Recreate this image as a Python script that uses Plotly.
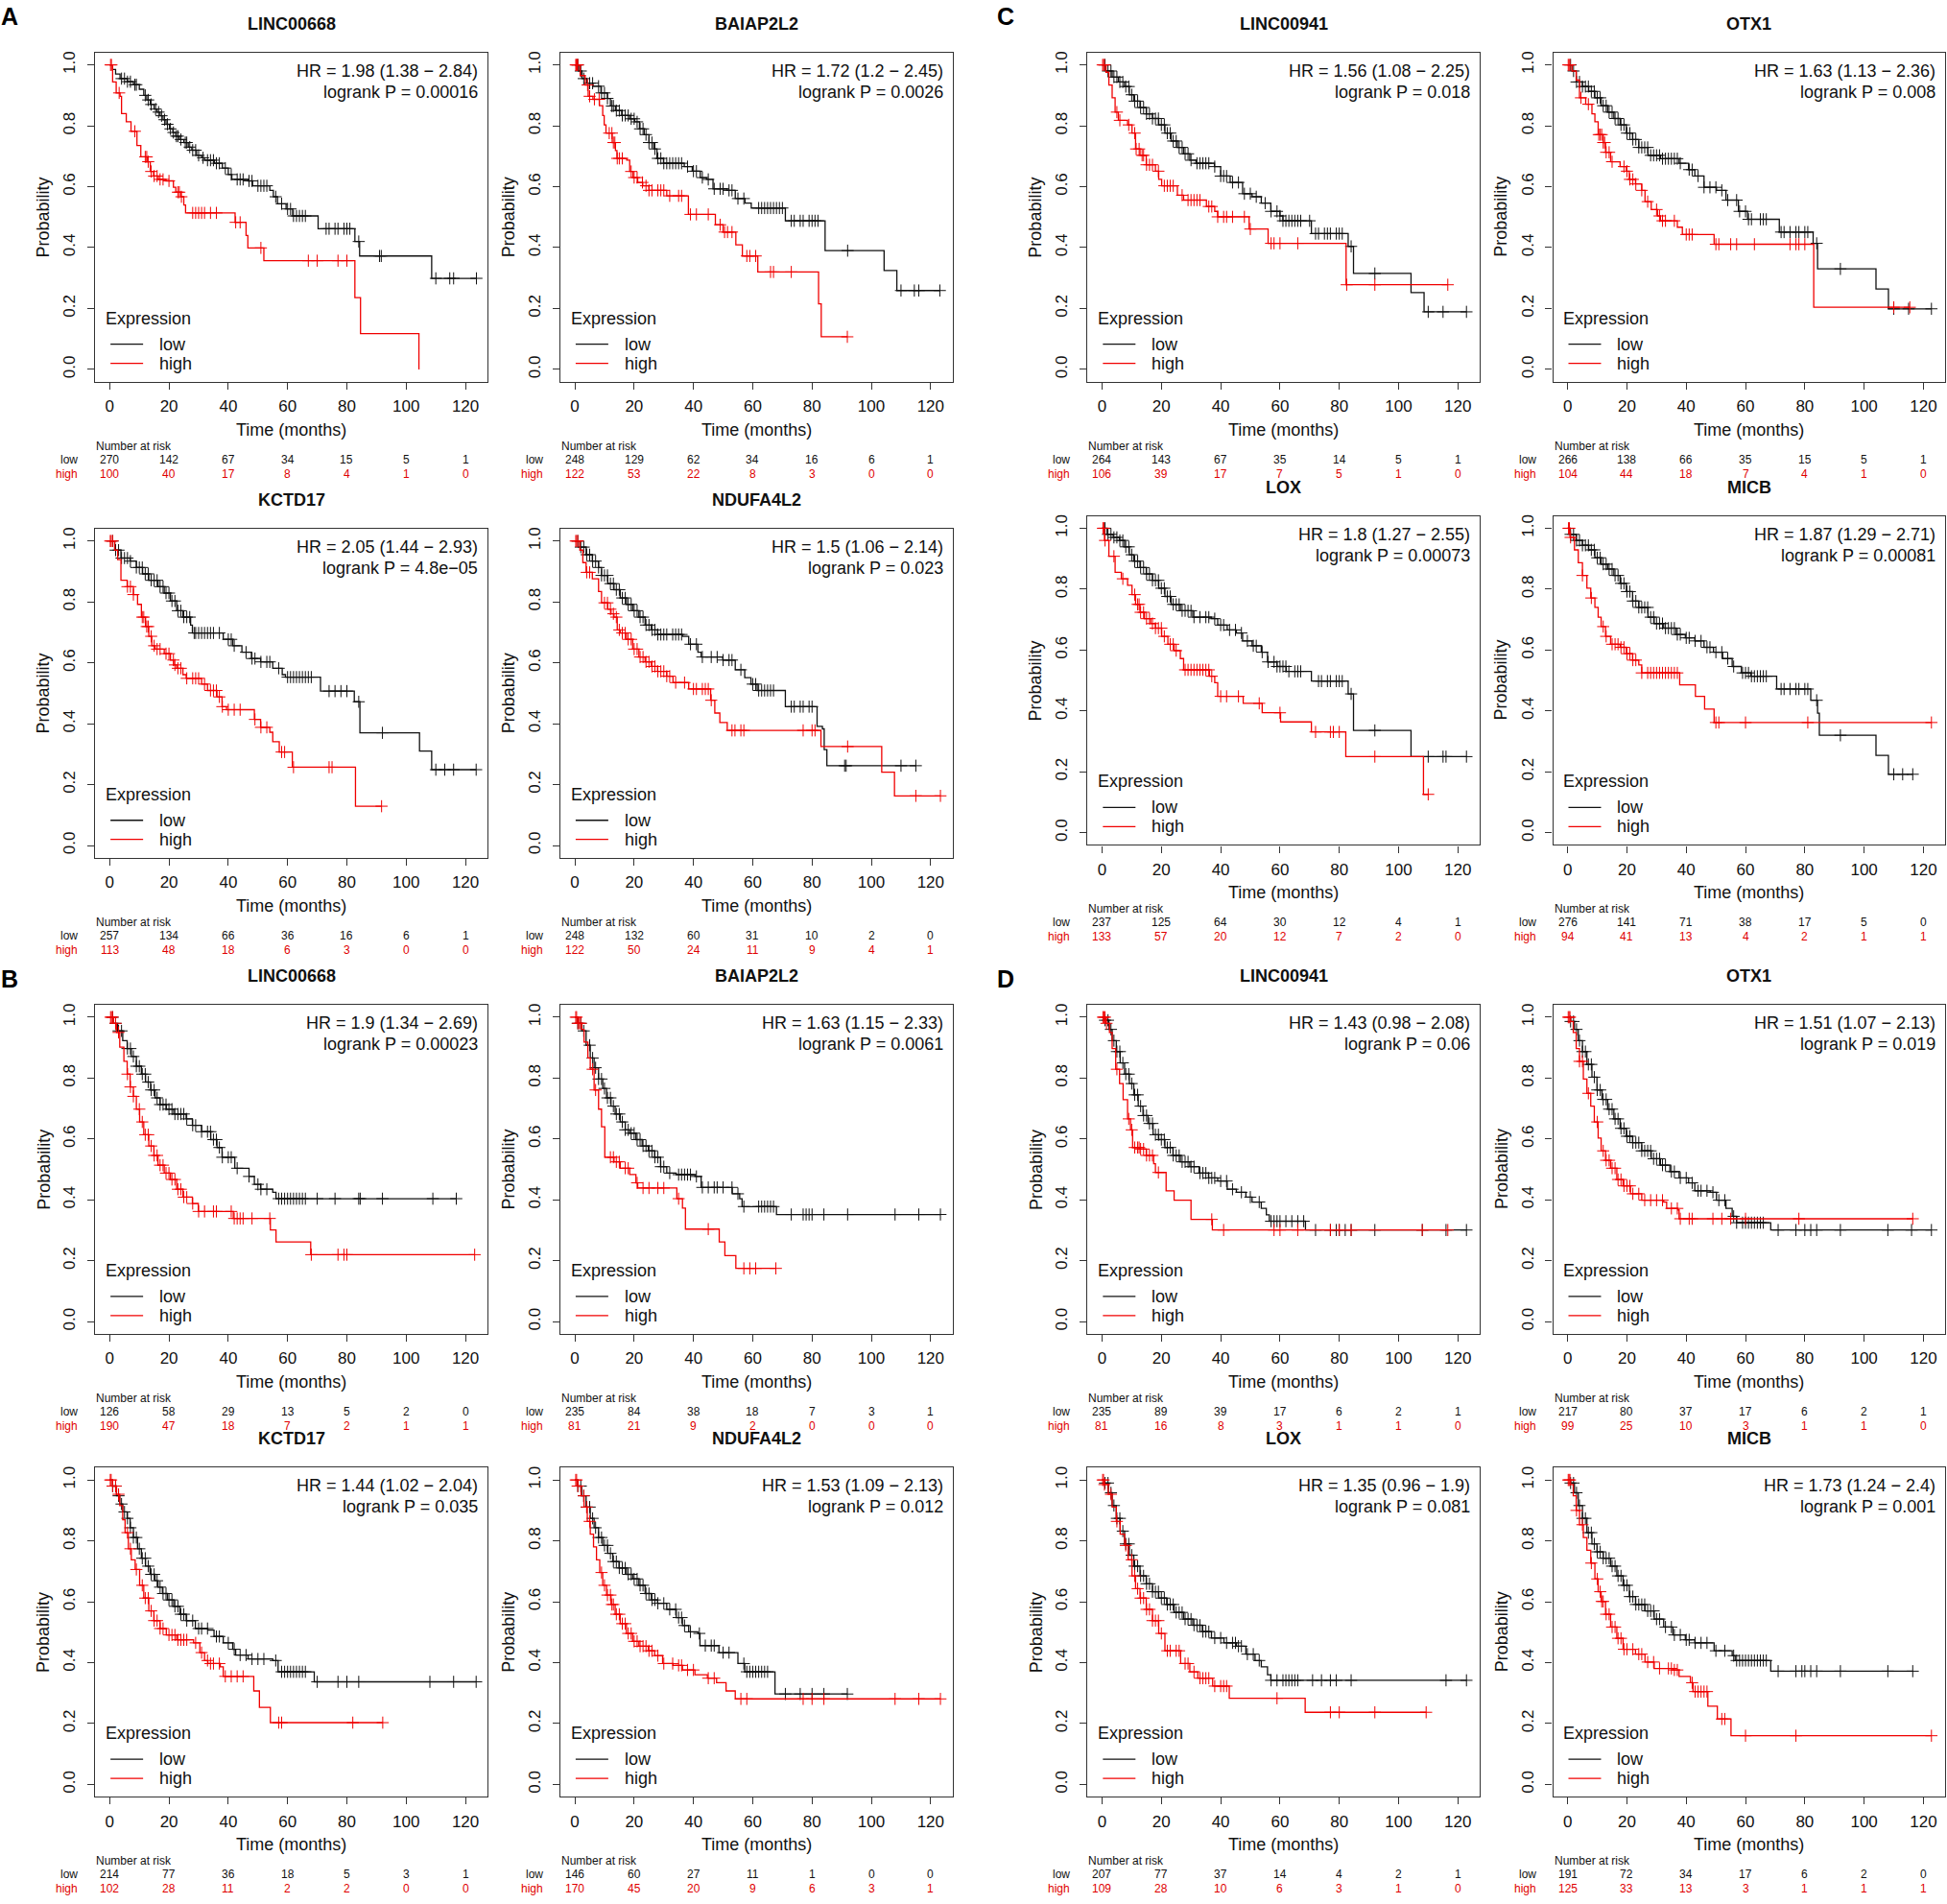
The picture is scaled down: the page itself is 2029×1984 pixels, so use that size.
import plotly.graph_objects as go

# ------------------------------------------------------------------
# DATA
# step points are (time in months, survival probability after the step)
# ------------------------------------------------------------------
TIME_TICKS = [0, 20, 40, 60, 80, 100, 120]
PROB_TICKS = [0.0, 0.2, 0.4, 0.6, 0.8, 1.0]
PROB_TICK_TEXT = ["0.0", "0.2", "0.4", "0.6", "0.8", "1.0"]

# ---------------- A : LINC00668 ----------------
A1_low = [(0, 1.0), (1, 0.985), (2, 0.97), (3.5, 0.955), (6, 0.945), (8, 0.935), (10, 0.92), (11.5, 0.90),
          (12.5, 0.885), (13.7, 0.87), (15, 0.855), (16, 0.845), (17, 0.833), (18, 0.82), (19, 0.805),
          (20.2, 0.79), (21.3, 0.778), (22.3, 0.766), (23.5, 0.755), (25, 0.745), (26.5, 0.73), (27.7, 0.72),
          (29.3, 0.703), (31, 0.695), (32, 0.687), (35.3, 0.677), (38, 0.661), (40, 0.64), (41.2, 0.624),
          (46.6, 0.619), (48.2, 0.603), (54, 0.588), (55.2, 0.567), (56.6, 0.544), (59.5, 0.527), (61.7, 0.504),
          (70.3, 0.462), (82.7, 0.42), (84.3, 0.3725), (108.6, 0.299)]
A1_low_end = 123.7
A1_low_cens = [4, 5, 6, 7, 8.5, 9, 12, 13, 14, 15.5, 16.5, 17.5, 18.5, 19.5, 20.5, 21.5, 22.5, 23, 24, 25.5, 26, 27,
               28, 29, 30, 31.5, 33, 34, 35, 36, 37, 39, 41, 43, 44, 45, 47, 48, 50, 51, 52, 53, 56, 58, 60, 61, 62,
               63, 64, 65, 66, 73, 74, 76, 77, 79, 80, 81, 84, 91, 91.6, 110, 114.7, 116, 123.7]
A1_high = [(0, 1.0), (1, 0.944), (2.2, 0.908), (3.5, 0.897), (4, 0.84), (5.6, 0.813), (7.2, 0.782), (9.2, 0.735),
           (10.5, 0.698), (12.6, 0.682), (13.7, 0.65), (14.8, 0.635), (16.4, 0.624), (19, 0.619), (21.5, 0.598),
           (22.3, 0.582), (24, 0.567), (25, 0.54), (25.6, 0.514), (42.3, 0.483), (46, 0.44), (46.6, 0.399),
           (52, 0.357), (82.7, 0.236), (84.6, 0.1175), (104.3, 0.0)]
A1_high_end = 104.3
A1_high_cens = [0.3, 0.6, 3.2, 8.5, 12, 12.5, 13, 14, 15, 16, 17, 18, 20, 23, 23.5, 24.2, 28, 29, 30, 31, 32, 34, 36,
                42.5, 44, 51, 67, 70, 77, 80]
A1_risk_low = [270, 142, 67, 34, 15, 5, 1]
A1_risk_high = [100, 40, 17, 8, 4, 1, 0]

# ---------------- A : BAIAP2L2 ----------------
A2_low = [(0, 1.0), (1.3, 0.98), (2.4, 0.955), (4, 0.94), (6.1, 0.93), (8.8, 0.908), (11, 0.89), (12, 0.865),
          (13.7, 0.85), (15.8, 0.834), (18.5, 0.823), (20.2, 0.813), (21.8, 0.79), (23.4, 0.771), (25, 0.745),
          (26.6, 0.724), (27.7, 0.693), (29.9, 0.677), (36.9, 0.666), (39.6, 0.651), (42.3, 0.63), (44.4, 0.624),
          (46.6, 0.593), (51.4, 0.588), (54.1, 0.561), (57.4, 0.546), (59.5, 0.53), (71, 0.488), (84.4, 0.39),
          (104.3, 0.325), (108.6, 0.259)]
A2_low_end = 123.1
A2_low_cens = [1, 2, 3, 5, 6, 8, 9, 10, 11, 12.5, 13, 14, 15, 16, 17, 18, 19, 20, 21, 22, 23, 24, 25, 26, 27, 28, 29,
               30, 31, 32, 33, 34, 35, 36, 38, 40, 41, 43, 45, 47, 49, 50, 52, 53, 55, 57, 62, 63, 64, 65, 66, 67, 68,
               69, 70, 73, 74, 76, 77, 79, 80, 81, 82, 92, 110, 114.5, 116, 123.1]
A2_high = [(0, 1.0), (1.8, 0.965), (3.5, 0.934), (4.5, 0.897), (6.1, 0.887), (8.3, 0.866), (9.4, 0.834),
           (9.9, 0.803), (10.5, 0.776), (12.6, 0.745), (13.7, 0.719), (14.2, 0.693), (17.5, 0.687), (18.5, 0.65),
           (19.6, 0.63), (21.2, 0.614), (22.9, 0.603), (25, 0.588), (31, 0.57), (38.3, 0.509), (47.4, 0.475),
           (50, 0.451), (54.3, 0.409), (56.5, 0.3725), (61.7, 0.32), (82.2, 0.215), (83.1, 0.107)]
A2_high_end = 91.9
A2_high_cens = [0.3, 0.5, 0.8, 1, 4.3, 5, 6.6, 8.2, 11.6, 12.5, 13, 13.5, 14.3, 15, 16, 19, 20, 21, 22.8, 24, 25, 26,
                28, 29, 30, 32, 35, 36, 39, 41, 45, 49, 50.5, 51.5, 53, 58, 59, 61, 66, 67, 73, 91.9]
A2_risk_low = [248, 129, 62, 34, 16, 6, 1]
A2_risk_high = [122, 53, 22, 8, 3, 0, 0]

# ---------------- A : KCTD17 ----------------
A3_low = [(0, 1.0), (1.7, 0.97), (3.8, 0.944), (6.9, 0.934), (9, 0.913), (11.1, 0.892), (13.2, 0.871), (16.3, 0.85),
          (18.4, 0.829), (20.5, 0.803), (22.6, 0.771), (24.7, 0.75), (27.3, 0.724), (27.9, 0.698), (38.3, 0.677),
          (41.5, 0.656), (44.6, 0.635), (47.8, 0.614), (50.9, 0.603), (55, 0.582), (58.2, 0.561), (59.3, 0.553),
          (71.1, 0.507), (82.5, 0.472), (84.4, 0.37), (104.5, 0.31), (108.6, 0.249)]
A3_low_end = 123.6
A3_low_cens = [1, 2, 3, 4, 5, 6, 7, 9, 10, 11, 12, 13, 14, 15, 16, 17, 18, 19, 20, 21, 22, 23, 24, 25, 26, 27, 28.5,
               29, 30, 31, 32, 33, 34, 35, 37, 40, 41, 42, 46, 48, 49, 51, 53, 54, 57, 60, 61, 62, 63, 64, 65, 66, 67,
               68, 74, 76, 78, 80, 84, 92, 110, 113, 116, 123.6]
A3_high = [(0, 1.0), (1.7, 0.97), (2.7, 0.939), (3.8, 0.871), (5.9, 0.85), (8, 0.824), (9.4, 0.792), (10.7, 0.75),
           (12.1, 0.719), (13.2, 0.687), (14.2, 0.656), (15.3, 0.645), (18.4, 0.63), (20.5, 0.609), (21.6, 0.593),
           (22.6, 0.582), (24.7, 0.561), (25.8, 0.549), (31, 0.53), (33, 0.509), (36.2, 0.488), (37.9, 0.456),
           (39.4, 0.446), (48.8, 0.414), (50.9, 0.388), (54, 0.372), (55, 0.341), (57.2, 0.307), (61.6, 0.257),
           (82.9, 0.129)]
A3_high_end = 91.7
A3_high_cens = [0.2, 0.5, 1, 6, 7, 8, 11, 11.5, 12.5, 13, 14, 15, 16, 17, 19, 20, 21.5, 22, 23, 24, 26, 28, 29, 30,
                32, 34, 35, 36, 37, 38, 40, 42, 44, 49, 51, 53, 58, 59, 62, 74, 75, 91.7]
A3_risk_low = [257, 134, 66, 36, 16, 6, 1]
A3_risk_high = [113, 48, 18, 6, 3, 0, 0]

# ---------------- A : NDUFA4L2 ----------------
A4_low = [(0, 1.0), (1.7, 0.98), (3.8, 0.955), (5.9, 0.934), (8, 0.913), (9, 0.887), (11.1, 0.86), (13.2, 0.84),
          (15.3, 0.813), (17.4, 0.792), (19.5, 0.771), (21.6, 0.75), (23.7, 0.724), (25.8, 0.708), (27.9, 0.693),
          (36.3, 0.687), (38.4, 0.661), (41.5, 0.635), (42.6, 0.619), (49.9, 0.609), (54.1, 0.577), (57.3, 0.551),
          (59.4, 0.53), (61.5, 0.509), (71, 0.456), (81.7, 0.391), (83.5, 0.383), (84.1, 0.315), (85, 0.262)]
A4_low_end = 115
A4_low_cens = [1, 2, 3, 4, 5, 6, 7, 8, 9, 10, 11, 12, 13, 14, 15, 16, 17, 18, 19, 20, 21, 22, 23, 24, 25, 26, 27, 28,
               29, 30, 31, 33, 34, 35, 36, 39, 41, 43, 46, 48, 50, 52, 53, 56, 60, 61, 62, 63, 64, 65, 66, 67, 73, 74,
               76, 77, 79, 80, 91, 91.5, 110, 115]
A4_high = [(0, 1.0), (1.7, 0.97), (2.7, 0.929), (3.8, 0.897), (5.9, 0.876), (8, 0.834), (9, 0.797), (11.1, 0.776),
           (12.2, 0.761), (13.2, 0.75), (14.3, 0.708), (15.3, 0.698), (17.4, 0.677), (19.5, 0.645), (21.6, 0.619),
           (23.7, 0.603), (25.8, 0.588), (27.9, 0.572), (31, 0.556), (33.1, 0.535), (38.4, 0.514), (45.8, 0.477),
           (47.2, 0.435), (48.9, 0.404), (51.4, 0.378), (83, 0.325), (103.5, 0.241), (107.8, 0.163)]
A4_high_end = 123.3
A4_high_cens = [0.3, 0.6, 1, 4, 5, 10, 11, 12, 13, 14, 15, 16, 17, 18, 19, 20, 21, 22, 23, 24, 25, 26, 27, 28, 29, 30,
                31, 32, 34, 37, 40, 41, 43, 44, 45, 46, 53, 54, 56, 57, 77, 80, 81, 92, 115, 123.3]
A4_risk_low = [248, 132, 60, 31, 10, 2, 0]
A4_risk_high = [122, 50, 24, 11, 9, 4, 1]

# ---------------- C : LINC00941 ----------------
C1_low = [(0, 1.0), (1.3, 0.98), (3.4, 0.96), (5.5, 0.944), (7.6, 0.929), (9.2, 0.902), (10.7, 0.881), (12.8, 0.86),
          (14.9, 0.839), (17, 0.824), (19.1, 0.803), (21.2, 0.776), (23.3, 0.75), (25.4, 0.729), (27.5, 0.708),
          (29.6, 0.687), (31.7, 0.677), (37.9, 0.666), (40, 0.635), (43.2, 0.614), (47.4, 0.577), (50.6, 0.567),
          (53.7, 0.546), (56.9, 0.519), (60, 0.504), (61, 0.488), (70.6, 0.446), (83, 0.404), (84.8, 0.315),
          (104.2, 0.252), (108.6, 0.189)]
C1_low_end = 122.9
C1_low_cens = [1, 2, 3, 4, 5, 6, 7, 8, 9, 10, 11, 12, 13, 14, 15, 16, 17, 18, 19, 20, 21, 22, 23, 24, 25, 26, 27, 28,
               29, 30, 32, 33, 34, 35, 36, 38, 40, 41, 42, 44, 46, 48, 50, 52, 55, 57, 59, 60, 61, 62, 63, 64, 65, 66,
               67, 70, 72, 73, 75, 76, 77, 79, 80, 81, 84, 92, 110, 115, 122.9]
C1_high = [(0, 1.0), (1.3, 0.976), (2.3, 0.934), (3.4, 0.892), (4.4, 0.845), (5.5, 0.818), (8.6, 0.803),
           (10.1, 0.776), (11.3, 0.724), (12.8, 0.703), (14.9, 0.672), (18, 0.651), (19.1, 0.624), (20.1, 0.603),
           (25.4, 0.572), (27.5, 0.556), (35.2, 0.535), (38, 0.519), (39, 0.501), (49.6, 0.461), (56, 0.414),
           (82.3, 0.278)]
C1_high_end = 116.6
C1_high_cens = [0.2, 0.5, 0.8, 5, 6, 9, 11, 11.5, 12.5, 13.5, 14, 15, 16, 17, 19, 21, 22, 23, 24, 27, 29, 30, 31, 32,
                33, 36, 37, 39, 41, 42, 44, 48, 50, 57, 58, 60, 66, 82.5, 92, 116.6]
C1_risk_low = [264, 143, 67, 35, 14, 5, 1]
C1_risk_high = [106, 39, 17, 7, 5, 1, 0]

# ---------------- C : OTX1 ----------------
C2_low = [(0, 1.0), (1.5, 0.98), (2.9, 0.944), (5, 0.929), (7.1, 0.913), (9.2, 0.892), (11.3, 0.866), (13.5, 0.845),
          (15.6, 0.824), (17.7, 0.803), (19.8, 0.776), (21.9, 0.755), (24, 0.729), (27.1, 0.703), (31.3, 0.692),
          (37.6, 0.677), (40.8, 0.656), (42.9, 0.635), (46, 0.598), (50.2, 0.588), (53.4, 0.556), (57.6, 0.519),
          (60.7, 0.493), (71.4, 0.451), (82.8, 0.414), (84.3, 0.33), (104, 0.264), (108.2, 0.199)]
C2_low_end = 122.7
C2_low_cens = [1, 2, 3, 4, 5, 6, 7, 8, 9, 10, 11, 12, 13, 14, 15, 16, 17, 18, 19, 20, 21, 22, 23, 24, 25, 26, 27, 28,
               29, 30, 31, 32, 33, 34, 35, 36, 37, 38, 41, 42, 44, 46, 48, 50, 52, 54, 57, 58, 60, 61, 62, 65, 66, 67,
               72, 73, 75, 77, 78, 80, 81, 84, 92, 110, 115, 122.7]
C2_high = [(0, 1.0), (1.5, 0.98), (2.9, 0.95), (4, 0.892), (6.1, 0.871), (8.2, 0.839), (9.2, 0.813), (10.3, 0.771),
           (12, 0.745), (12.8, 0.713), (14.5, 0.682), (17.7, 0.666), (19.8, 0.651), (20.8, 0.624), (22.9, 0.609),
           (25, 0.588), (26.1, 0.551), (28.2, 0.525), (30.3, 0.504), (31.3, 0.488), (37, 0.467), (38.7, 0.443),
           (49.4, 0.411), (83, 0.204)]
C2_high_end = 115.4
C2_high_cens = [0.2, 0.5, 0.8, 4.5, 7, 10.5, 11, 11.5, 12, 12.5, 13, 14, 15, 19, 20, 21, 22, 23, 25, 27, 30, 31, 32,
                33, 36, 40, 41, 42, 50, 51, 55, 57, 63, 75, 77, 78, 80, 110, 115.4]
C2_risk_low = [266, 138, 66, 35, 15, 5, 1]
C2_risk_high = [104, 44, 18, 7, 4, 1, 0]

# ---------------- C : LOX ----------------
C3_low = [(0, 1.0), (1.7, 0.98), (3.8, 0.97), (5.9, 0.96), (7.6, 0.939), (9.2, 0.913), (10.7, 0.892), (12.8, 0.871),
          (14.9, 0.85), (17, 0.829), (19.1, 0.803), (21.2, 0.776), (23.3, 0.75), (26.4, 0.729), (30.6, 0.708),
          (36.9, 0.703), (39, 0.682), (42.2, 0.666), (45.3, 0.656), (47.4, 0.63), (50.6, 0.614), (53.7, 0.593),
          (55.8, 0.561), (59, 0.546), (62.1, 0.53), (70.6, 0.498), (83, 0.456), (84.8, 0.336), (104.2, 0.25)]
C3_low_end = 122.9
C3_low_cens = [1, 2, 3, 4, 5, 6, 7, 8, 9, 10, 11, 12, 13, 14, 15, 16, 17, 18, 19, 20, 21, 22, 23, 24, 25, 26, 27, 28,
               29, 30, 31, 33, 35, 36, 38, 40, 41, 43, 45, 47, 49, 51, 52, 54, 56, 58, 59, 60, 61, 62, 63, 65, 66, 67,
               73, 74, 76, 77, 79, 80, 81, 84, 92, 110, 115, 116, 122.9]
C3_high = [(0, 1.0), (0.8, 0.96), (2.3, 0.908), (4.4, 0.855), (6.5, 0.834), (8.6, 0.813), (10.1, 0.782),
           (11.3, 0.75), (12.8, 0.724), (14.3, 0.703), (16.4, 0.687), (18, 0.672), (20.1, 0.645), (22.2, 0.619),
           (24.3, 0.598), (26.4, 0.572), (27.5, 0.535), (36.2, 0.514), (38, 0.493), (39, 0.448), (47.6, 0.425),
           (54, 0.394), (60.2, 0.364), (70.6, 0.331), (82.2, 0.25), (108.4, 0.126)]
C3_high_end = 110
C3_high_cens = [0.3, 0.6, 1, 4, 7, 11, 12, 12.5, 13, 14, 15, 16, 17, 18, 19, 20, 21, 23, 24, 25, 28, 29, 30, 31, 32,
                33, 34, 35, 36, 37, 40, 42, 46, 53, 60, 72, 77, 78, 80, 92, 110]
C3_risk_low = [237, 125, 64, 30, 12, 4, 1]
C3_risk_high = [133, 57, 20, 12, 7, 2, 0]

# ---------------- C : MICB ----------------
C4_low = [(0, 1.0), (0.8, 0.98), (2.9, 0.96), (5, 0.944), (7.1, 0.929), (9.2, 0.903), (11.3, 0.882), (13.5, 0.866),
          (15.6, 0.845), (17.7, 0.819), (19.8, 0.792), (21.9, 0.761), (24, 0.74), (27.1, 0.708), (29.2, 0.687),
          (32.4, 0.672), (36.6, 0.651), (39.7, 0.64), (42.9, 0.63), (46, 0.609), (49.2, 0.593), (52.3, 0.572),
          (55.5, 0.546), (58.6, 0.525), (61.8, 0.514), (70.5, 0.472), (82, 0.435), (84.3, 0.393), (84.9, 0.32),
          (104, 0.254), (108.2, 0.192)]
C4_low_end = 116.4
C4_low_cens = [1, 2, 3, 4, 5, 6, 7, 8, 9, 10, 11, 12, 13, 14, 15, 16, 17, 18, 19, 20, 21, 22, 23, 24, 25, 26, 27, 28,
               29, 30, 31, 32, 33, 34, 35, 36, 37, 38, 40, 41, 43, 45, 47, 48, 50, 52, 54, 56, 59, 60, 61, 62, 63, 64,
               65, 66, 67, 72, 73, 75, 77, 78, 80, 81, 84, 92, 110, 113, 116.4]
C4_high = [(0, 1.0), (0.8, 0.97), (2.3, 0.929), (3.6, 0.887), (5, 0.845), (6.5, 0.803), (7.8, 0.771), (9.2, 0.74),
           (10.3, 0.708), (11.3, 0.677), (12.8, 0.645), (14.5, 0.619), (17.7, 0.609), (19.8, 0.588), (21.9, 0.567),
           (24, 0.551), (25, 0.525), (37.8, 0.486), (43.1, 0.448), (46.2, 0.406), (49.4, 0.362)]
C4_high_end = 122.7
C4_high_cens = [0.3, 0.6, 1, 5, 8, 12, 13, 15, 16, 17, 18, 19, 20, 21, 22, 23, 25, 27, 28, 29, 30, 31, 32, 33, 34, 35,
                36, 37, 50, 51, 60, 81, 122.7]
C4_risk_low = [276, 141, 71, 38, 17, 5, 0]
C4_risk_high = [94, 41, 13, 4, 2, 1, 1]

# ---------------- B : LINC00668 ----------------
B1_low = [(0, 1.0), (1.3, 0.98), (2.7, 0.955), (4.4, 0.923), (5.9, 0.897), (7.3, 0.871), (9, 0.839), (10.7, 0.813),
          (12.1, 0.787), (13.8, 0.761), (15.3, 0.735), (17, 0.713), (19.1, 0.698), (21.6, 0.682), (25.8, 0.666),
          (27.9, 0.645), (31, 0.624), (34.1, 0.598), (36.2, 0.572), (37.9, 0.54), (42.2, 0.504), (47, 0.477),
          (48.8, 0.451), (50.9, 0.435), (55, 0.425), (56.1, 0.404)]
B1_low_end = 116.9
B1_low_cens = [1, 2, 3, 4, 6, 7, 8, 9, 10, 11, 12, 13, 14, 15, 16, 17, 18, 19, 20, 21, 22, 23, 24, 25, 26, 28, 29, 31,
               33, 34, 35, 36, 37, 38, 40, 41, 43, 47, 50, 51, 53, 57, 58, 59, 60, 61, 62, 63, 64, 65, 66, 70, 76, 84,
               84.5, 92, 109, 116.9]
B1_high = [(0, 1.0), (1.3, 0.98), (2.3, 0.95), (3.4, 0.902), (4.8, 0.855), (5.9, 0.813), (6.9, 0.771), (8, 0.74),
           (9, 0.698), (10.1, 0.656), (11.5, 0.614), (13.2, 0.577), (14.9, 0.546), (16.3, 0.514), (18.4, 0.488),
           (20.5, 0.467), (22.6, 0.435), (24.7, 0.409), (27.9, 0.388), (29.9, 0.362), (41.7, 0.339), (54.2, 0.301),
           (56.1, 0.262), (67.8, 0.22)]
B1_high_end = 123.1
B1_high_cens = [0.3, 0.6, 1, 2, 3, 6, 7, 8, 10, 11, 12, 13, 14, 15, 16, 17, 18, 19, 20, 21, 22, 23, 24, 25, 26, 28,
                30, 32, 35, 36, 41, 42, 43, 44, 45, 48, 54, 68, 77, 79, 80, 123.1]
B1_risk_low = [126, 58, 29, 13, 5, 2, 0]
B1_risk_high = [190, 47, 18, 7, 2, 1, 1]

# ---------------- B : BAIAP2L2 ----------------
B2_low = [(0, 1.0), (1, 0.98), (2.3, 0.955), (3.8, 0.908), (5.2, 0.866), (6.5, 0.834), (8, 0.797), (9.4, 0.766),
          (10.7, 0.735), (12.2, 0.708), (13.6, 0.682), (15.3, 0.656), (17, 0.63), (18.5, 0.619), (20.6, 0.598),
          (22.7, 0.577), (24.8, 0.561), (26.9, 0.54), (28.9, 0.509), (31, 0.488), (34.2, 0.483), (40.5, 0.477),
          (42.6, 0.441), (53.1, 0.42), (55.6, 0.404), (56.4, 0.378), (68, 0.352)]
B2_low_end = 123.3
B2_low_cens = [1, 2, 3, 5, 6, 7, 8, 9, 10, 11, 12, 13, 14, 15, 16, 17, 18, 19, 20, 21, 22, 23, 24, 25, 26, 27, 28, 29,
               30, 32, 35, 36, 37, 38, 39, 41, 43, 45, 47, 48, 50, 53, 55, 57, 62, 63, 64, 65, 66, 67, 73, 77, 78, 79,
               80, 84, 92, 108, 116, 123.3]
B2_high = [(0, 1.0), (1, 0.98), (2.3, 0.96), (3.1, 0.918), (4.4, 0.866), (5.2, 0.829), (6.5, 0.761), (8, 0.698),
           (9, 0.64), (10.1, 0.54), (13.2, 0.525), (15.3, 0.504), (18.5, 0.483), (20.6, 0.456), (21.2, 0.439),
           (34.4, 0.404), (36.3, 0.373), (37.3, 0.304), (48.7, 0.262), (50.6, 0.217), (54.3, 0.175)]
B2_high_end = 67.8
B2_high_cens = [0.3, 0.6, 1, 1.5, 2, 6, 7, 12, 13, 14, 15, 17, 18, 21, 23, 25, 28, 30, 35, 45, 57, 59, 61, 67.8]
B2_risk_low = [235, 84, 38, 18, 7, 3, 1]
B2_risk_high = [81, 21, 9, 2, 0, 0, 0]

# ---------------- B : KCTD17 ----------------
B3_low = [(0, 1.0), (1, 0.98), (2.3, 0.948), (3.4, 0.921), (4.4, 0.895), (5.9, 0.874), (6.9, 0.843), (8, 0.811),
          (9.4, 0.774), (10.7, 0.743), (12.1, 0.717), (13.6, 0.69), (15.3, 0.669), (16.3, 0.648), (17.8, 0.627),
          (19.5, 0.606), (21.6, 0.585), (23.7, 0.559), (25.8, 0.538), (28.9, 0.512), (33.1, 0.507), (35.2, 0.486),
          (38.3, 0.465), (41.5, 0.444), (42.5, 0.425), (46.7, 0.412), (55, 0.407), (56.8, 0.37), (69, 0.337)]
B3_low_end = 123.6
B3_low_cens = [1, 2, 3, 4, 5, 6, 7, 8, 9, 10, 11, 12, 13, 14, 15, 16, 17, 18, 19, 20, 21, 22, 23, 24, 25, 26, 28, 30,
               31, 33, 36, 37, 40, 42, 44, 46, 48, 50, 52, 56, 58, 59, 60, 61, 62, 63, 64, 65, 66, 70, 77, 80, 84, 108,
               116, 123.6]
B3_high = [(0, 1.0), (1, 0.98), (2.3, 0.953), (3.4, 0.916), (4.4, 0.869), (5.2, 0.827), (6.3, 0.774), (7.3, 0.738),
           (8.6, 0.706), (10.1, 0.654), (11.5, 0.612), (13.2, 0.57), (14.9, 0.538), (17, 0.512), (19.1, 0.491),
           (22.6, 0.475), (28.3, 0.465), (30.4, 0.433), (32, 0.407), (33.1, 0.397), (37.3, 0.386), (38.3, 0.355),
           (48.6, 0.307), (50.5, 0.253), (54.2, 0.203)]
B3_high_end = 92.1
B3_high_cens = [0.2, 0.5, 1, 2, 3, 6, 7, 9, 11, 12, 13, 14, 15, 16, 17, 18, 20, 21, 22, 23, 24, 25, 26, 29, 31, 33,
                34, 35, 37, 39, 41, 43, 45, 57, 58, 82, 92.1]
B3_risk_low = [214, 77, 36, 18, 5, 3, 1]
B3_risk_high = [102, 28, 11, 2, 2, 0, 0]

# ---------------- B : NDUFA4L2 ----------------
B4_low = [(0, 1.0), (1, 0.98), (2.3, 0.948), (3.8, 0.911), (5.2, 0.874), (6.5, 0.843), (8, 0.811), (9.4, 0.785),
          (11.1, 0.759), (12.8, 0.732), (14.9, 0.711), (17.4, 0.69), (19.5, 0.675), (21.6, 0.654), (23.7, 0.627),
          (25.8, 0.606), (27.9, 0.595), (31, 0.575), (34.2, 0.548), (36.3, 0.522), (38.4, 0.501), (41.5, 0.496),
          (42.2, 0.456), (48.6, 0.433), (55, 0.397), (57.3, 0.37), (67.5, 0.297)]
B4_low_end = 91.9
B4_low_cens = [1, 2, 3, 4, 5, 6, 7, 8, 9, 10, 11, 12, 13, 14, 15, 16, 17, 18, 19, 20, 21, 22, 23, 24, 25, 26, 27, 28,
               30, 32, 34, 35, 36, 37, 39, 42, 44, 46, 47, 50, 52, 57, 58, 59, 60, 61, 62, 63, 64, 65, 71, 76, 80, 84,
               91.9]
B4_high = [(0, 1.0), (1, 0.98), (2.1, 0.948), (3.1, 0.911), (4.2, 0.864), (5.2, 0.822), (6.3, 0.78), (7.3, 0.738),
           (8.4, 0.696), (9.4, 0.654), (10.7, 0.622), (12.2, 0.591), (13.6, 0.559), (15.3, 0.528), (17.4, 0.496),
           (19.5, 0.47), (21.6, 0.454), (24.8, 0.439), (26.9, 0.423), (29.6, 0.397), (33.1, 0.391), (36.3, 0.376),
           (40.5, 0.36), (44.7, 0.349), (47.8, 0.334), (51, 0.307), (54.1, 0.281)]
B4_high_end = 123.3
B4_high_cens = [0.3, 0.6, 1, 3, 4, 5, 9, 10, 11, 12, 12.5, 13, 14, 15, 16, 17, 18, 19, 20, 21, 22, 23, 24, 25, 26, 28,
                30, 33, 35, 36, 38, 40, 45, 47, 56, 58, 77, 80, 84, 108, 116, 123.3]
B4_risk_low = [146, 60, 27, 11, 1, 0, 0]
B4_risk_high = [170, 45, 20, 9, 6, 3, 1]

# ---------------- D : LINC00941 ----------------
D1_low = [(0, 1.0), (0.8, 0.99), (2.3, 0.96), (3.4, 0.923), (4.8, 0.887), (6.1, 0.85), (7.6, 0.813), (9.2, 0.782),
          (10.7, 0.745), (12.2, 0.708), (13.8, 0.677), (15.5, 0.651), (17.2, 0.614), (19.1, 0.598), (21.2, 0.572),
          (23.9, 0.546), (26.4, 0.525), (29.6, 0.509), (32.7, 0.488), (35.9, 0.472), (39, 0.462), (42.2, 0.435),
          (45.3, 0.425), (48.5, 0.409), (50.6, 0.393), (53.7, 0.372), (55.4, 0.351), (56.4, 0.33), (68.6, 0.301)]
D1_low_end = 122.9
D1_low_cens = [1, 2, 3, 4, 5, 6, 7, 8, 9, 10, 11, 12, 13, 14, 15, 16, 17, 18, 19, 20, 21, 22, 23, 24, 25, 26, 27, 28,
               29, 30, 31, 33, 34, 35, 36, 37, 38, 40, 42, 44, 47, 50, 53, 57, 58, 59, 60, 62, 64, 66, 68, 72, 77, 79,
               80, 82, 84, 92, 108, 116, 122.9]
D1_high = [(0, 1.0), (1.3, 0.98), (2.5, 0.95), (3.4, 0.897), (4.6, 0.829), (5.9, 0.782), (7.1, 0.729), (8.6, 0.666),
           (9.6, 0.63), (10.3, 0.572), (12.8, 0.567), (14.9, 0.546), (17.4, 0.519), (18, 0.49), (21.6, 0.43),
           (24.3, 0.399), (30, 0.336), (37.2, 0.301)]
D1_high_end = 116.6
D1_high_cens = [0.3, 0.6, 1, 1.5, 5, 9, 10, 11, 12, 12.5, 13, 14, 15, 16, 17, 19, 37, 41, 58, 60, 66, 77, 80, 84,
                108, 116.6]
D1_risk_low = [235, 89, 39, 17, 6, 2, 1]
D1_risk_high = [81, 16, 8, 3, 1, 1, 0]

# ---------------- D : OTX1 ----------------
D2_low = [(0, 1.0), (1, 0.986), (2.3, 0.96), (3.6, 0.923), (5, 0.887), (6.5, 0.845), (8.2, 0.803), (9.9, 0.761),
          (11.6, 0.73), (13.5, 0.698), (15.6, 0.666), (17.7, 0.635), (19.8, 0.609), (21.9, 0.588), (25, 0.561),
          (28.2, 0.535), (31.3, 0.514), (34.5, 0.493), (37.6, 0.472), (40.8, 0.456), (42.9, 0.43), (48.1, 0.425),
          (50.2, 0.399), (53.4, 0.372), (55.5, 0.346), (57, 0.325), (68.5, 0.301)]
D2_low_end = 122.7
D2_low_cens = [1, 2, 3, 4, 5, 6, 7, 8, 9, 10, 11, 12, 13, 14, 15, 16, 17, 18, 19, 20, 21, 22, 23, 24, 25, 26, 27, 28,
               29, 30, 31, 32, 33, 35, 36, 38, 40, 42, 44, 45, 47, 49, 51, 53, 56, 57, 59, 60, 61, 62, 63, 64, 65, 66,
               71, 77, 80, 82, 84, 92, 108, 116, 122.7]
D2_high = [(0, 1.0), (1, 0.986), (1.9, 0.95), (2.9, 0.897), (4, 0.855), (5.3, 0.797), (6.5, 0.75), (7.8, 0.708),
           (9, 0.656), (10.3, 0.603), (11.3, 0.561), (12.8, 0.53), (14.5, 0.504), (16.6, 0.467), (18.7, 0.446),
           (21.2, 0.42), (25, 0.399), (32.4, 0.393), (33.4, 0.372), (37.2, 0.367), (37.6, 0.338)]
D2_high_end = 116.4
D2_high_cens = [0.2, 0.5, 0.8, 4, 5, 7, 10, 12, 13, 14, 15, 16, 17, 18, 19, 20, 21, 22, 24, 26, 28, 30, 32, 35, 37,
                38, 41, 42, 49, 52, 55, 60, 78, 116.4]
D2_risk_low = [217, 80, 37, 17, 6, 2, 1]
D2_risk_high = [99, 25, 10, 3, 1, 1, 0]

# ---------------- D : LOX ----------------
D3_low = [(0, 1.0), (0.8, 0.99), (2.1, 0.958), (3.4, 0.916), (4.8, 0.874), (6.1, 0.832), (7.6, 0.79), (9.2, 0.753),
          (10.7, 0.717), (12.8, 0.685), (14.9, 0.659), (17, 0.633), (19.1, 0.612), (21.8, 0.591), (24.3, 0.565),
          (27.5, 0.543), (30.6, 0.523), (33.8, 0.502), (36.9, 0.481), (41.1, 0.465), (45.3, 0.454), (48.5, 0.428),
          (51.6, 0.407), (53.7, 0.386), (55.8, 0.36), (56.9, 0.342)]
D3_low_end = 122.9
D3_low_cens = [1, 2, 3, 4, 5, 6, 7, 8, 9, 10, 11, 12, 13, 14, 15, 16, 17, 18, 19, 20, 21, 22, 23, 24, 25, 26, 27, 28,
               29, 30, 31, 32, 33, 34, 35, 36, 38, 40, 42, 44, 45, 46, 47, 49, 51, 53, 57, 59, 61, 62, 63, 64, 65, 66,
               71, 74, 77, 79, 84, 116, 122.9]
D3_high = [(0, 1.0), (0.8, 0.985), (2.1, 0.953), (3.4, 0.911), (4.8, 0.864), (6.1, 0.822), (7.6, 0.785),
           (8.8, 0.738), (10.1, 0.685), (11.3, 0.643), (12.8, 0.612), (14.9, 0.575), (17, 0.538), (19.1, 0.496),
           (21.2, 0.439), (26.5, 0.397), (29.6, 0.37), (32.3, 0.349), (37.3, 0.323), (42.9, 0.283), (68.5, 0.237)]
D3_high_end = 109.3
D3_high_cens = [0.2, 0.5, 0.8, 3, 5, 8, 10, 11, 12, 13, 14, 15, 16, 17, 18, 19, 20, 22, 23, 25, 26, 28, 29, 31, 33,
                34, 35, 36, 38, 40, 41, 42, 59, 77, 80, 92, 109.3]
D3_risk_low = [207, 77, 37, 14, 4, 2, 1]
D3_risk_high = [109, 28, 10, 6, 3, 1, 0]

# ---------------- D : MICB ----------------
D4_low = [(0, 1.0), (1, 0.99), (2.3, 0.958), (3.6, 0.916), (5, 0.874), (6.5, 0.827), (8.2, 0.79), (9.9, 0.764),
          (12, 0.743), (14.5, 0.717), (16.6, 0.685), (18.7, 0.654), (20.8, 0.617), (22.9, 0.591), (26.1, 0.57),
          (29.2, 0.543), (32.4, 0.517), (35.5, 0.491), (39.7, 0.475), (42.9, 0.465), (49.4, 0.439), (55.5, 0.423),
          (56.5, 0.407), (68.5, 0.372)]
D4_low_end = 116.4
D4_low_cens = [1, 2, 3, 4, 5, 6, 7, 8, 9, 10, 11, 12, 13, 14, 15, 16, 17, 18, 19, 20, 21, 22, 23, 24, 25, 26, 27, 28,
               29, 30, 31, 33, 35, 36, 38, 40, 41, 43, 45, 47, 50, 53, 56, 57, 58, 59, 60, 61, 62, 63, 64, 65, 66, 67,
               71, 77, 79, 80, 82, 84, 92, 108, 116.4]
D4_high = [(0, 1.0), (1, 0.985), (1.9, 0.948), (2.9, 0.9), (4, 0.853), (5.3, 0.811), (6.5, 0.769), (7.8, 0.727),
           (9.2, 0.675), (10.3, 0.633), (11.3, 0.601), (12.8, 0.559), (14.5, 0.517), (16.6, 0.48), (18.7, 0.444),
           (22.9, 0.428), (26.1, 0.402), (29.2, 0.381), (35.5, 0.376), (37.6, 0.355), (41.4, 0.334), (42.3, 0.305),
           (47.3, 0.257), (50.5, 0.215), (55.1, 0.16)]
D4_high_end = 122.7
D4_high_cens = [0.2, 0.5, 0.8, 3, 5, 8, 10, 11, 11.5, 12, 13, 14, 15, 16, 17, 18, 19, 20, 22, 24, 25, 27, 29, 31, 34,
                35, 36, 37, 42, 43, 44, 45, 46, 47, 52, 53, 60, 77, 122.7]
D4_risk_low = [191, 72, 34, 17, 6, 2, 0]
D4_risk_high = [125, 33, 13, 3, 1, 1, 1]

# panel list: (grid row, grid col, gene, HR text, logrank P text, curves & risk tables)
PANELS = [
    (0, 0, "LINC00668", "HR = 1.98 (1.38 \u2212 2.84)", "logrank P = 0.00016",
     A1_low, A1_low_end, A1_low_cens, A1_high, A1_high_end, A1_high_cens, A1_risk_low, A1_risk_high),
    (0, 1, "BAIAP2L2", "HR = 1.72 (1.2 \u2212 2.45)", "logrank P = 0.0026",
     A2_low, A2_low_end, A2_low_cens, A2_high, A2_high_end, A2_high_cens, A2_risk_low, A2_risk_high),
    (0, 2, "LINC00941", "HR = 1.56 (1.08 \u2212 2.25)", "logrank P = 0.018",
     C1_low, C1_low_end, C1_low_cens, C1_high, C1_high_end, C1_high_cens, C1_risk_low, C1_risk_high),
    (0, 3, "OTX1", "HR = 1.63 (1.13 \u2212 2.36)", "logrank P = 0.008",
     C2_low, C2_low_end, C2_low_cens, C2_high, C2_high_end, C2_high_cens, C2_risk_low, C2_risk_high),
    (1, 0, "KCTD17", "HR = 2.05 (1.44 \u2212 2.93)", "logrank P = 4.8e\u221205",
     A3_low, A3_low_end, A3_low_cens, A3_high, A3_high_end, A3_high_cens, A3_risk_low, A3_risk_high),
    (1, 1, "NDUFA4L2", "HR = 1.5 (1.06 \u2212 2.14)", "logrank P = 0.023",
     A4_low, A4_low_end, A4_low_cens, A4_high, A4_high_end, A4_high_cens, A4_risk_low, A4_risk_high),
    (1, 2, "LOX", "HR = 1.8 (1.27 \u2212 2.55)", "logrank P = 0.00073",
     C3_low, C3_low_end, C3_low_cens, C3_high, C3_high_end, C3_high_cens, C3_risk_low, C3_risk_high),
    (1, 3, "MICB", "HR = 1.87 (1.29 \u2212 2.71)", "logrank P = 0.00081",
     C4_low, C4_low_end, C4_low_cens, C4_high, C4_high_end, C4_high_cens, C4_risk_low, C4_risk_high),
    (2, 0, "LINC00668", "HR = 1.9 (1.34 \u2212 2.69)", "logrank P = 0.00023",
     B1_low, B1_low_end, B1_low_cens, B1_high, B1_high_end, B1_high_cens, B1_risk_low, B1_risk_high),
    (2, 1, "BAIAP2L2", "HR = 1.63 (1.15 \u2212 2.33)", "logrank P = 0.0061",
     B2_low, B2_low_end, B2_low_cens, B2_high, B2_high_end, B2_high_cens, B2_risk_low, B2_risk_high),
    (2, 2, "LINC00941", "HR = 1.43 (0.98 \u2212 2.08)", "logrank P = 0.06",
     D1_low, D1_low_end, D1_low_cens, D1_high, D1_high_end, D1_high_cens, D1_risk_low, D1_risk_high),
    (2, 3, "OTX1", "HR = 1.51 (1.07 \u2212 2.13)", "logrank P = 0.019",
     D2_low, D2_low_end, D2_low_cens, D2_high, D2_high_end, D2_high_cens, D2_risk_low, D2_risk_high),
    (3, 0, "KCTD17", "HR = 1.44 (1.02 \u2212 2.04)", "logrank P = 0.035",
     B3_low, B3_low_end, B3_low_cens, B3_high, B3_high_end, B3_high_cens, B3_risk_low, B3_risk_high),
    (3, 1, "NDUFA4L2", "HR = 1.53 (1.09 \u2212 2.13)", "logrank P = 0.012",
     B4_low, B4_low_end, B4_low_cens, B4_high, B4_high_end, B4_high_cens, B4_risk_low, B4_risk_high),
    (3, 2, "LOX", "HR = 1.35 (0.96 \u2212 1.9)", "logrank P = 0.081",
     D3_low, D3_low_end, D3_low_cens, D3_high, D3_high_end, D3_high_cens, D3_risk_low, D3_risk_high),
    (3, 3, "MICB", "HR = 1.73 (1.24 \u2212 2.4)", "logrank P = 0.001",
     D4_low, D4_low_end, D4_low_cens, D4_high, D4_high_end, D4_high_cens, D4_risk_low, D4_risk_high),
]

SECTION_LABELS = [("A", 0, 0), ("B", 2, 0), ("C", 0, 2), ("D", 2, 2)]

# ------------------------------------------------------------------
# LAYOUT GEOMETRY (pixels in the 2029 x 1984 page)
# ------------------------------------------------------------------
W, H = 2029, 1984
FONT = "Liberation Sans, Arial, Helvetica, sans-serif"
BLACK = "#111111"
RED = "#f00000"
RED_TXT = "#e00000"
COL_LEFT = [99.2, 584.2, 1133.9, 1619.3]
BOX_W, BOX_H = 409.0, 343.0
ROW_TOP = {0: (53.0, 53.0), 1: (549.6, 536.3), 2: (1046.3, 1046.3), 3: (1529.0, 1529.0)}
X_RANGE = [-4.9, 127.4]
Y_RANGE = [-0.04, 1.04]


def fx(p):
    return p / W


def fy(p):
    return 1.0 - p / H


def surv_at(steps, t):
    val = steps[0][1]
    for ti, si in steps:
        if ti <= t:
            val = si
        else:
            break
    return val


fig = go.Figure()
annotations = []
shapes = []
layout_axes = {}

for k, (r, c, gene, hr_txt, p_txt, lo, lo_end, lo_c, hi, hi_end, hi_c, rl, rh) in enumerate(PANELS, start=1):
    left = COL_LEFT[c]
    top = ROW_TOP[r][0 if c < 2 else 1]
    right = left + BOX_W
    bottom = top + BOX_H
    xa = "x" if k == 1 else f"x{k}"
    ya = "y" if k == 1 else f"y{k}"
    xname = "xaxis" if k == 1 else f"xaxis{k}"
    yname = "yaxis" if k == 1 else f"yaxis{k}"

    layout_axes[xname] = dict(
        domain=[fx(left), fx(right)], range=X_RANGE, anchor=ya, tickvals=TIME_TICKS,
        ticks="outside", ticklen=7, tickwidth=1, tickcolor="#333", showline=True, mirror=True,
        linecolor="#333", linewidth=1.2, showgrid=False, zeroline=False,
        tickfont=dict(family=FONT, size=17, color="#111"), ticklabelstandoff=3)
    layout_axes[yname] = dict(
        domain=[fy(bottom), fy(top)], range=Y_RANGE, anchor=xa, tickvals=PROB_TICKS, ticktext=PROB_TICK_TEXT,
        tickangle=-90, ticks="outside", ticklen=7, tickwidth=1, tickcolor="#333", showline=True, mirror=True,
        linecolor="#333", linewidth=1.2, showgrid=False, zeroline=False,
        tickfont=dict(family=FONT, size=17, color="#111"), ticklabelstandoff=6)

    for steps, end, cens, col in ((lo, lo_end, lo_c, BLACK), (hi, hi_end, hi_c, RED)):
        xs = [t for t, _ in steps] + [end]
        ys = [s for _, s in steps] + [steps[-1][1]]
        fig.add_trace(go.Scatter(x=xs, y=ys, mode="lines", line=dict(shape="hv", color=col, width=1.3),
                                 xaxis=xa, yaxis=ya, showlegend=False, hoverinfo="skip"))
        fig.add_trace(go.Scatter(x=cens, y=[surv_at(steps, t) for t in cens], mode="markers",
                                 marker=dict(symbol="cross-thin", size=9, color=col, line=dict(width=1, color=col)),
                                 xaxis=xa, yaxis=ya, showlegend=False, hoverinfo="skip"))

    cx = (left + right) / 2
    # title
    annotations.append(dict(text=f"<b>{gene}</b>", x=fx(cx), y=fy(top - 30), xref="paper", yref="paper",
                            showarrow=False, xanchor="center", yanchor="middle",
                            font=dict(family=FONT, size=18, color="#111")))
    # axis titles
    annotations.append(dict(text="Probability", x=fx(left - 54), y=fy(top + 171.5), xref="paper", yref="paper",
                            showarrow=False, textangle=-90, xanchor="center", yanchor="middle",
                            font=dict(family=FONT, size=18, color="#111")))
    annotations.append(dict(text="Time (months)", x=fx(cx), y=fy(bottom + 50), xref="paper", yref="paper",
                            showarrow=False, xanchor="center", yanchor="middle",
                            font=dict(family=FONT, size=18, color="#111")))
    # HR / logrank
    annotations.append(dict(text=hr_txt, x=fx(right - 8), y=fy(top + 19), xref="paper", yref="paper",
                            showarrow=False, xanchor="right", yanchor="middle",
                            font=dict(family=FONT, size=18, color="#111")))
    annotations.append(dict(text=p_txt, x=fx(right - 8), y=fy(top + 41), xref="paper", yref="paper",
                            showarrow=False, xanchor="right", yanchor="middle",
                            font=dict(family=FONT, size=18, color="#111")))
    # legend
    annotations.append(dict(text="Expression", x=fx(left + 9), y=fy(top + 277), xref="paper", yref="paper",
                            showarrow=False, xanchor="left", yanchor="middle",
                            font=dict(family=FONT, size=18, color="#111")))
    for lab, dy, col in (("low", 304, BLACK), ("high", 324, RED)):
        annotations.append(dict(text=lab, x=fx(left + 65), y=fy(top + dy), xref="paper", yref="paper",
                                showarrow=False, xanchor="left", yanchor="middle",
                                font=dict(family=FONT, size=18, color="#111")))
        shapes.append(dict(type="line", xref="paper", yref="paper", x0=fx(left + 16), x1=fx(left + 50),
                           y0=fy(top + dy), y1=fy(top + dy), line=dict(color=col, width=1.3)))
    # number at risk table
    annotations.append(dict(text="Number at risk", x=fx(left - 1), y=fy(bottom + 67), xref="paper", yref="paper",
                            showarrow=False, xanchor="left", yanchor="middle",
                            font=dict(family=FONT, size=12, color="#111")))
    for lab, dy, vals, col in (("low", 81, rl, "#111"), ("high", 96, rh, RED_TXT)):
        annotations.append(dict(text=lab, x=fx(left - 16), y=fy(bottom + dy), xref="paper", yref="paper",
                                showarrow=False, xanchor="right", yanchor="middle",
                                font=dict(family=FONT, size=12, color=col)))
        for tv, v in zip(TIME_TICKS, vals):
            annotations.append(dict(text=str(v), x=tv, y=fy(bottom + dy), xref=xa, yref="paper",
                                    showarrow=False, xanchor="center", yanchor="middle",
                                    font=dict(family=FONT, size=12, color=col)))

for lab, r, c in SECTION_LABELS:
    x_px = 10 if c == 0 else 1049
    y_px = 15 if r == 0 else 1019
    annotations.append(dict(text=f"<b>{lab}</b>", x=fx(x_px), y=fy(y_px), xref="paper", yref="paper",
                            showarrow=False, xanchor="center", yanchor="middle",
                            font=dict(family=FONT, size=25, color="#000")))

fig.update_layout(width=W, height=H, margin=dict(l=0, r=0, t=0, b=0), paper_bgcolor="white",
                  plot_bgcolor="white", showlegend=False, annotations=annotations, shapes=shapes,
                  **layout_axes)

fig.write_html("out.html", config={"displayModeBar": False},
               post_script="document.body.style.margin='0';document.body.style.padding='0';"
                           "document.body.style.overflow='hidden';")
